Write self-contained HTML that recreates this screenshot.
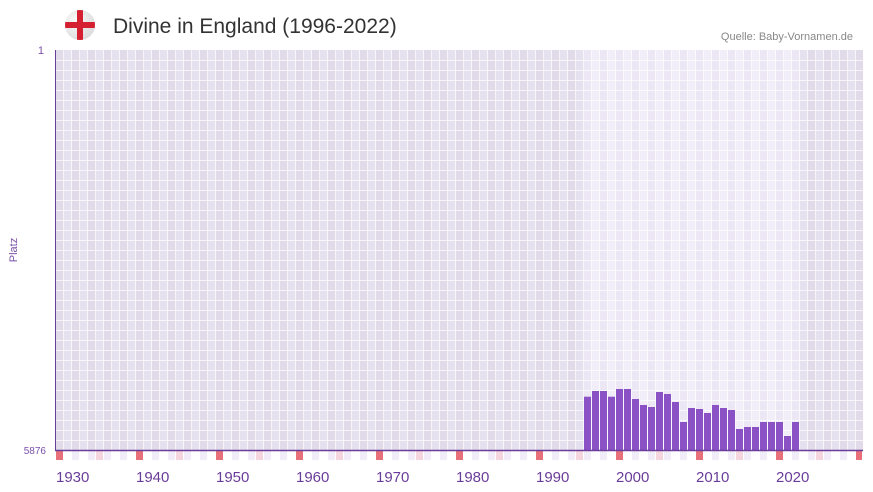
<!DOCTYPE html>
<html><head><meta charset="utf-8"><style>
body{margin:0;background:#fff;width:873px;height:492px;overflow:hidden;font-family:"Liberation Sans",sans-serif}
</style></head><body>
<svg id="s" width="873" height="492" xmlns="http://www.w3.org/2000/svg" style="position:absolute;left:0;top:0">
<defs><clipPath id="c"><circle cx="80" cy="25" r="15"/></clipPath>
<radialGradient id="rg" cx="0.35" cy="0.35" r="0.7"><stop offset="0" stop-color="#fafafa"/><stop offset="1" stop-color="#dcdcdc"/></radialGradient></defs>
<circle cx="80" cy="25" r="15" fill="url(#rg)"/>
<g clip-path="url(#c)"><rect x="65" y="22" width="30" height="6" fill="#d42030"/><rect x="77" y="10" width="6" height="30" fill="#d42030"/></g>
<text x="113" y="33" font-size="21" fill="#333">Divine in England (1996-2022)</text>
<text x="853" y="40" font-size="11" fill="#888" text-anchor="end">Quelle: Baby-Vornamen.de</text>
<g id="grid"></g>
<line x1="55.5" y1="50" x2="55.5" y2="451" stroke="#6a3d9a" stroke-width="1"/>
<line x1="55" y1="450.5" x2="863" y2="450.5" stroke="#6a3d9a" stroke-width="1.5"/>
<text x="44" y="54" font-size="11" fill="#7a4fa8" text-anchor="end">1</text>
<text x="46" y="454" font-size="10" fill="#7a4fa8" text-anchor="end">5876</text>
<text x="17" y="250" font-size="11" fill="#7a4fa8" text-anchor="middle" transform="rotate(-90 17 250)">Platz</text>
<g id="lab" font-size="15" fill="#6a3d9a"></g>
</svg>
<script>
var g=document.getElementById('grid'),h='';
function X(y){return 584+(y-1996)*8;}
for(var y=1930;y<=2030;y++){var x=X(y);if(x>=863)break;var w=Math.min(8,863-x);
var light=(y>=1996&&y<=2022);var alt=y%2;
var col=light?(alt?'#f1edf9':'#ece6f5'):(alt?'#e6e1ee':'#e0dae9');
h+='<rect x="'+x+'" y="50" width="'+w+'" height="400" fill="'+col+'"/>';
var bc=(y%10==0)?'#e8707a':(y%5==0)?'#f5d6df':(alt?'#ffffff':'#f1edf8');
h+='<rect x="'+x+'" y="451" width="'+(w-1)+'" height="9" fill="'+bc+'"/>';}
for(var x=63;x<863;x+=8)h+='<rect x="'+x+'" y="50" width="1" height="400" fill="#fff" opacity="0.7"/>';
for(var yy=60;yy<450;yy+=10)h+='<rect x="55" y="'+yy+'" width="808" height="1" fill="#fff" opacity="0.7"/>';
var t=[396.7,391,391,396.7,389,389,399,405,407,392,394,402,422,408,409,413,405,408,410,429,427,427,422,422,422,436,422];
for(var i=0;i<t.length;i++)h+='<rect x="'+X(1996+i)+'" y="'+t[i]+'" width="7" height="'+(450-t[i])+'" fill="#8b52c6"/>';
g.innerHTML=h;
var l='';for(var y=1930;y<=2020;y+=10)l+='<text x="'+X(y)+'" y="482">'+y+'</text>';
document.getElementById('lab').innerHTML=l;
</script>
</body></html>
